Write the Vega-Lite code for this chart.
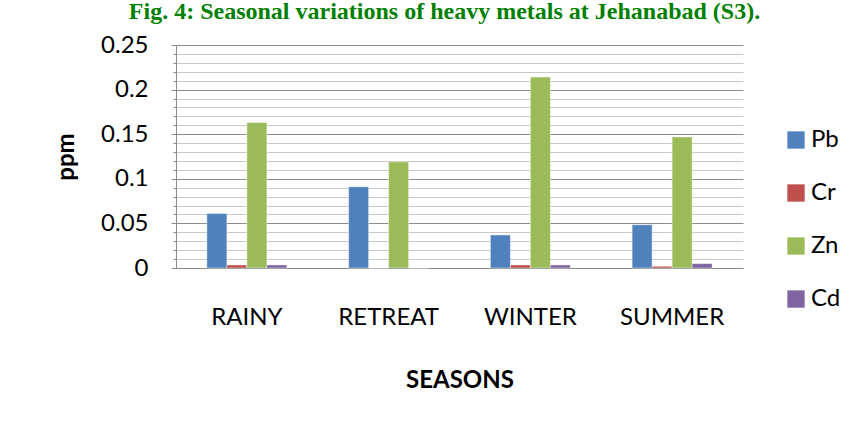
{
  "$schema": "https://vega.github.io/schema/vega-lite/v6.json",
  "width": 567,
  "height": 223,
  "autosize": {"type": "none"},
  "padding": {"left": 176, "top": 45, "right": 120, "bottom": 153},
  "background": "white",
  "title": {
    "text": "Fig. 4: Seasonal variations of heavy metals at Jehanabad (S3).",
    "font": "Liberation Serif",
    "fontSize": 24,
    "fontWeight": "bold",
    "color": "#008000",
    "anchor": "middle",
    "dx": -15,
    "baseline": "alphabetic",
    "offset": -10
  },
  "data": {
    "values": [
      {"season": "RAINY", "metal": "Pb", "ppm": 0.061},
      {"season": "RAINY", "metal": "Cr", "ppm": 0.0034},
      {"season": "RAINY", "metal": "Zn", "ppm": 0.163},
      {"season": "RAINY", "metal": "Cd", "ppm": 0.0034},
      {"season": "RETREAT", "metal": "Pb", "ppm": 0.091},
      {"season": "RETREAT", "metal": "Cr", "ppm": 0},
      {"season": "RETREAT", "metal": "Zn", "ppm": 0.119},
      {"season": "RETREAT", "metal": "Cd", "ppm": 0},
      {"season": "WINTER", "metal": "Pb", "ppm": 0.037},
      {"season": "WINTER", "metal": "Cr", "ppm": 0.0034},
      {"season": "WINTER", "metal": "Zn", "ppm": 0.214},
      {"season": "WINTER", "metal": "Cd", "ppm": 0.0034},
      {"season": "SUMMER", "metal": "Pb", "ppm": 0.0485},
      {"season": "SUMMER", "metal": "Cr", "ppm": 0.0019},
      {"season": "SUMMER", "metal": "Zn", "ppm": 0.147},
      {"season": "SUMMER", "metal": "Cd", "ppm": 0.0049}
    ]
  },
  "mark": {"type": "bar", "stroke": "white", "strokeWidth": 0.6, "strokeOpacity": 0.7},
  "encoding": {
    "x": {
      "field": "season",
      "type": "nominal",
      "sort": ["RAINY", "RETREAT", "WINTER", "SUMMER"],
      "scale": {"paddingInner": 0.4356, "paddingOuter": 0.2178},
      "title": "SEASONS",
      "axis": {
        "labelAngle": 0,
        "ticks": false,
        "domainColor": "#8a8a8a",
        "domainWidth": 1,
        "labelFont": "Lato",
        "labelFontSize": 24,
        "labelColor": "#000000",
        "labelPadding": 37,
        "titleFont": "Lato",
        "titleFontSize": 24,
        "titleFontWeight": "bold",
        "titleColor": "#000000",
        "titlePadding": 39
      }
    },
    "xOffset": {
      "field": "metal",
      "type": "nominal",
      "sort": ["Pb", "Cr", "Zn", "Cd"],
      "scale": {"paddingInner": 0, "paddingOuter": 0}
    },
    "y": {
      "field": "ppm",
      "type": "quantitative",
      "scale": {"domain": [0, 0.25], "nice": false},
      "title": "ppm",
      "axis": {
        "values": [0, 0.01, 0.02, 0.03, 0.04, 0.05, 0.06, 0.07, 0.08, 0.09, 0.1, 0.11, 0.12, 0.13, 0.14, 0.15, 0.16, 0.17, 0.18, 0.19, 0.2, 0.21, 0.22, 0.23, 0.24, 0.25],
        "labelExpr": "abs(datum.value*20 - round(datum.value*20)) < 0.001 ? toString(round(datum.value*100)/100) : ''",
        "labelOverlap": false,
        "grid": true,
        "gridColor": {"condition": {"test": "abs(datum.value*20 - round(datum.value*20)) < 0.001", "value": "#8c8c8c"}, "value": "#c8c8c8"},
        "gridWidth": 1.2,
        "tickSize": {"condition": {"test": "abs(datum.value*20 - round(datum.value*20)) < 0.001", "value": 5}, "value": 3},
        "tickColor": "#8c8c8c",
        "domainColor": "#8c8c8c",
        "labelFont": "Lato",
        "labelFontSize": 24,
        "labelColor": "#000000",
        "labelPadding": 23,
        "titleFont": "Lato",
        "titleFontSize": 24,
        "titleFontWeight": "bold",
        "titleColor": "#000000",
        "titlePadding": 22
      }
    },
    "color": {
      "field": "metal",
      "type": "nominal",
      "sort": ["Pb", "Cr", "Zn", "Cd"],
      "scale": {"domain": ["Pb", "Cr", "Zn", "Cd"], "range": ["#4F81BD", "#C0504D", "#9BBB59", "#8064A2"]},
      "legend": {
        "title": null,
        "orient": "none",
        "legendX": 608,
        "legendY": 83,
        "symbolType": "square",
        "symbolSize": 300,
        "symbolStrokeWidth": 0,
        "symbolOpacity": 1,
        "labelFont": "Lato",
        "labelFontSize": 24,
        "labelColor": "#000000",
        "labelOffset": 3,
        "rowPadding": 29,
        "padding": 0
      }
    }
  },
  "config": {"view": {"stroke": null}}
}
